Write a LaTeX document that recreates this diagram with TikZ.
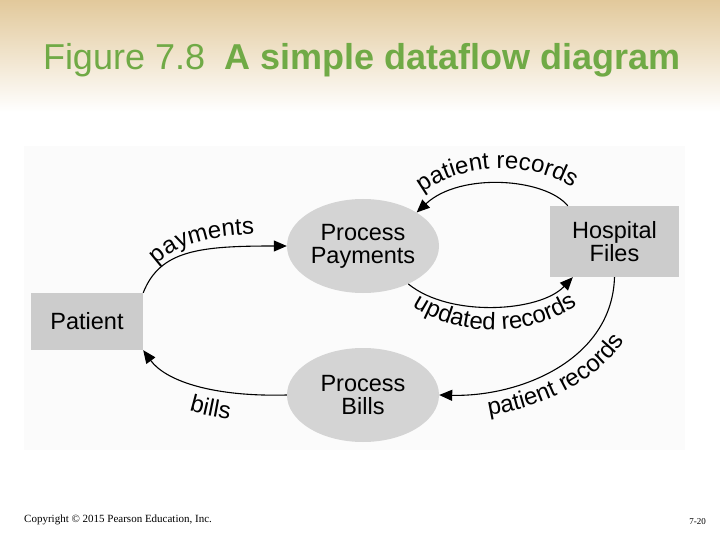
\documentclass[tikz,border=0pt]{standalone}
\usepackage{fontspec}
\setmainfont{Liberation Sans}
\newfontfamily\serifcopy{Liberation Serif}
\usetikzlibrary{arrows.meta,shapes.geometric,decorations.text,calc}
\definecolor{titlegreen}{RGB}{112,170,70}
\definecolor{topband}{RGB}{226,201,155}
\definecolor{boxgray}{RGB}{204,204,204}
\definecolor{ellgray}{RGB}{212,212,212}
\definecolor{panel}{RGB}{251,251,251}
\newcommand{\dfdfont}{\fontsize{23.5}{26}\selectfont}
\newcommand{\lblfont}{\fontsize{24}{27}\selectfont}
\begin{document}
\begin{tikzpicture}[x=1pt,y=-1pt,
  entity/.style={rectangle, fill=boxgray, align=center, font=\dfdfont, inner sep=0pt},
  proc/.style={ellipse, fill=ellgray, align=center, font=\dfdfont, inner sep=0pt, minimum width=152pt, minimum height=94pt},
  flow/.style={line width=1.1pt, -{Triangle[length=13pt,width=11pt]}},
  lbl/.style={decorate, decoration={text along path, text align=center, text={|\lblfont|#1}}}
]
\useasboundingbox (0,0) rectangle (720,540);
% top band
\shade[top color=topband, bottom color=white] (0,0) rectangle (720,112);
% title
\node[anchor=base, text=titlegreen, inner sep=0pt] (title) at (362,70)
  {\fontsize{36}{40}\selectfont Figure 7.8\hspace{0.55em}\textbf{A simple dataflow diagram}};
% panel
\fill[panel] (24,146) rectangle (685,450);
% nodes
\node[entity, minimum width=112pt, minimum height=57pt] (pat) at (87,321.5) {Patient};
\node[entity, minimum width=129pt, minimum height=71pt] (hf) at (614.5,241.5) {Hospital\\[-3pt]Files};
\node[proc] (pp) at (363,246) {Process\\[-3pt]Payments};
\node[proc] (pb) at (363,395) {Process\\[-3pt]Bills};
% connectors
\draw[flow] (pat.north east) .. controls (160,250) and (200,246) .. (pp.west);
\draw[flow] (pb.west) .. controls (210,397) and (165,380) .. (pat.south east);
\draw[flow] ([xshift=18pt]hf.north west) .. controls (545,178) and (460,172) .. (pp.32);
\draw[flow] (pp.-40) .. controls (450,318) and (540,312) .. ([xshift=23pt]hf.south west);
\draw[flow] (hf.south) .. controls (612,360) and (520,397) .. (pb.east);
% labels
\path[lbl=payments] (146,278) .. controls (168,243) and (212,234) .. (272,234);
\path[lbl=bills] (165,402) .. controls (188,412) and (215,419) .. (255,422);
\path[lbl=patient records] (410,204) .. controls (450,160) and (542,155) .. (586,199);
\path[lbl=updated records] (386,282) .. controls (436,346) and (552,346) .. (604,280);
\path[lbl=patient records] (445,420) .. controls (518,418) and (622,388) .. (641,300);
% footer
\node[anchor=base west, inner sep=0pt, font=\serifcopy\fontsize{11}{13}\selectfont] (copy) at (24,522) {Copyright © 2015 Pearson Education, Inc.};
\node[anchor=base east, inner sep=0pt, font=\serifcopy\fontsize{9}{11}\selectfont] (page) at (706,524) {7-20};
\end{tikzpicture}
\end{document}
